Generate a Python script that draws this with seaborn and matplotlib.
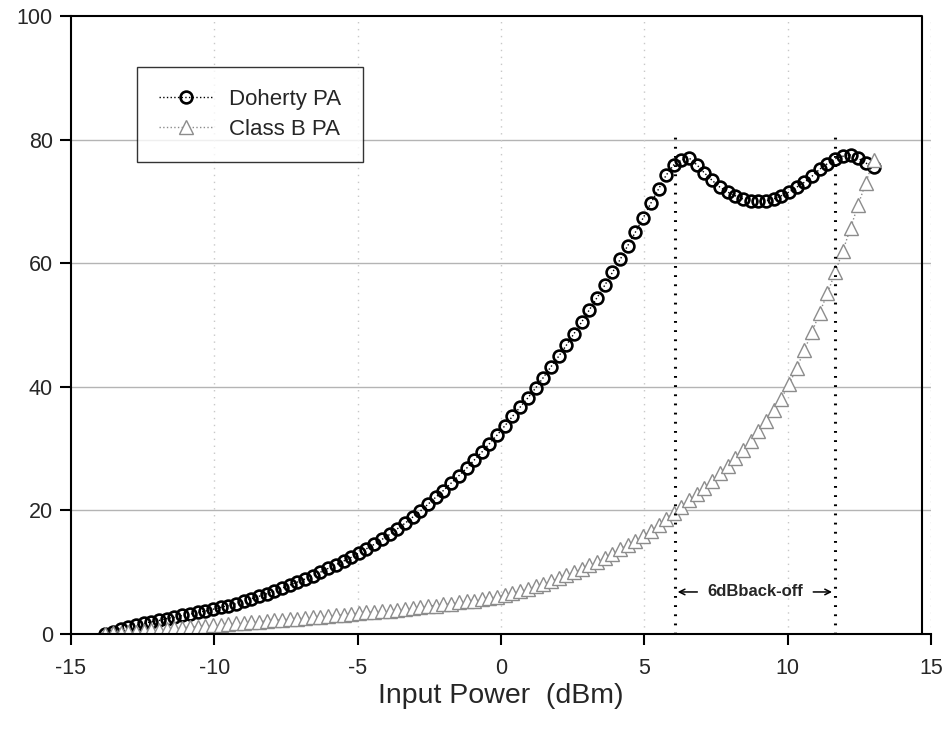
import numpy as np
import pandas as pd
import matplotlib
matplotlib.use("Agg")
import matplotlib.pyplot as plt
import seaborn as sns

# input power sweep (dBm)
input_power = [
    -13.80, -13.53, -13.26, -13.00, -12.73, -12.46, -12.19, -11.92, -11.66, -11.39,
    -11.12, -10.85, -10.58, -10.32, -10.05, -9.78, -9.51, -9.24, -8.98, -8.71,
    -8.44, -8.17, -7.90, -7.64, -7.37, -7.10, -6.83, -6.56, -6.30, -6.03,
    -5.76, -5.49, -5.22, -4.96, -4.69, -4.42, -4.15, -3.88, -3.62, -3.35,
    -3.08, -2.81, -2.54, -2.28, -2.01, -1.74, -1.47, -1.20, -0.94, -0.67,
    -0.40, -0.13, 0.14, 0.40, 0.67, 0.94, 1.21, 1.48, 1.74, 2.01,
    2.28, 2.55, 2.82, 3.08, 3.35, 3.62, 3.89, 4.16, 4.42, 4.69,
    4.96, 5.23, 5.50, 5.76, 6.03, 6.30, 6.57, 6.84, 7.10, 7.37,
    7.64, 7.91, 8.18, 8.44, 8.71, 8.98, 9.25, 9.52, 9.78, 10.05,
    10.32, 10.59, 10.86, 11.12, 11.39, 11.66, 11.93, 12.20, 12.46, 12.73,
    13.00,
]

# drain efficiency (%)
doherty_eff = [
    0.0, 0.4, 0.8, 1.1, 1.4, 1.7, 2.0, 2.2, 2.5, 2.7,
    3.0, 3.2, 3.5, 3.7, 4.0, 4.3, 4.6, 4.9, 5.3, 5.7,
    6.1, 6.5, 6.9, 7.4, 7.9, 8.4, 8.9, 9.4, 10.0, 10.6,
    11.2, 11.8, 12.4, 13.1, 13.8, 14.5, 15.3, 16.1, 17.0, 17.9,
    18.9, 19.9, 21.0, 22.1, 23.2, 24.4, 25.6, 26.8, 28.1, 29.4,
    30.8, 32.2, 33.7, 35.2, 36.7, 38.2, 39.8, 41.5, 43.2, 44.9,
    46.7, 48.6, 50.5, 52.4, 54.4, 56.4, 58.5, 60.6, 62.8, 65.0,
    67.3, 69.7, 72.0, 74.2, 75.9, 76.7, 77.0, 75.9, 74.6, 73.4,
    72.3, 71.5, 70.9, 70.4, 70.1, 70.0, 70.1, 70.4, 70.9, 71.5,
    72.3, 73.1, 74.1, 75.2, 76.1, 76.9, 77.3, 77.5, 77.0, 76.2,
    75.6,
]

classb_eff = [
    0.0, 0.1, 0.2, 0.3, 0.4, 0.5, 0.6, 0.7, 0.8, 0.9,
    1.0, 1.1, 1.2, 1.3, 1.4, 1.5, 1.6, 1.7, 1.8, 1.9,
    2.0, 2.1, 2.2, 2.3, 2.4, 2.5, 2.6, 2.7, 2.8, 2.9,
    3.0, 3.1, 3.2, 3.4, 3.5, 3.6, 3.7, 3.8, 3.9, 4.0,
    4.2, 4.3, 4.5, 4.6, 4.8, 4.9, 5.1, 5.3, 5.4, 5.6,
    5.8, 6.0, 6.3, 6.6, 6.9, 7.3, 7.7, 8.1, 8.5, 9.0,
    9.5, 10.0, 10.5, 11.1, 11.7, 12.3, 13.0, 13.7, 14.4, 15.1,
    15.9, 16.7, 17.6, 18.6, 19.6, 20.6, 21.6, 22.6, 23.7, 24.8,
    26.0, 27.2, 28.5, 29.8, 31.2, 32.8, 34.4, 36.2, 38.1, 40.4,
    43.0, 46.0, 48.9, 52.0, 55.1, 58.5, 62.0, 65.7, 69.4, 73.0,
    76.7,
]

# back-off markers
backoff_lo = 6.07
backoff_hi = 11.65
backoff_label = "6dBback-off"

df = pd.DataFrame({"pin": input_power, "doherty": doherty_eff, "classb": classb_eff})

sns.set_style("white")
plt.rcParams["font.family"] = ["Liberation Sans", "DejaVu Sans"]
plt.rcParams["axes.unicode_minus"] = False

fig = plt.figure(figsize=(9.46, 7.36), dpi=100)
ax = fig.add_axes([0.075, 0.1386, 0.909, 0.8397])

sns.lineplot(data=df, x="pin", y="doherty", ax=ax, color="black", linestyle=":",
             linewidth=1.0, marker="o", markersize=8.5, markerfacecolor="none",
             markeredgecolor="black", markeredgewidth=1.9, label="Doherty PA")
sns.lineplot(data=df, x="pin", y="classb", ax=ax, color="#8c8c8c", linestyle=":",
             linewidth=1.0, marker="^", markersize=10, markerfacecolor="white",
             markeredgecolor="#8c8c8c", markeredgewidth=1.0, label="Class B PA")

ax.set_xlim(-15, 15)
ax.set_ylim(0, 100)
ax.set_xticks(np.arange(-15, 16, 5))
ax.set_yticks(np.arange(0, 101, 20))
ax.set_xlabel("Input Power  (dBm)", fontsize=20.5, labelpad=3)
ax.set_ylabel("")

# grid: solid horizontal, dotted vertical
for yv in [20, 40, 60, 80]:
    ax.axhline(yv, color="#b4b4b4", linewidth=1.0, zorder=0)
for xv in [-10, -5, 0, 5, 10, 15]:
    ax.axvline(xv, color="#c8c8c8", linewidth=1.0, linestyle=(0, (1, 4)), zorder=0)

# frame
for side in ["right", "top"]:
    ax.spines[side].set_visible(False)
for side in ["left", "bottom"]:
    ax.spines[side].set_color("black")
    ax.spines[side].set_linewidth(1.5)
ax.axhline(100, xmin=0, xmax=(14.7 + 15) / 30, color="black", linewidth=1.5, clip_on=False)
ax.axvline(14.7, color="black", linewidth=1.5)

ax.tick_params(axis="both", direction="out", length=8, width=1.5, color="black",
               labelsize=15.5, bottom=True, left=True)
ax.tick_params(axis="x", pad=9)
ax.tick_params(axis="y", pad=5)

# back-off dotted lines
ax.vlines([backoff_lo, backoff_hi], 0, 81.5, colors="black", linewidth=2.2,
          linestyles=(0, (0.6, 2.4)))
ax.text((backoff_lo + backoff_hi) / 2, 6.8, backoff_label, ha="center", va="center",
        fontsize=12, fontweight="bold")
ax.annotate("", xy=(backoff_lo, 6.8), xytext=(6.95, 6.8),
            arrowprops=dict(arrowstyle="->", color="black", lw=1.1))
ax.annotate("", xy=(backoff_hi, 6.8), xytext=(10.8, 6.8),
            arrowprops=dict(arrowstyle="->", color="black", lw=1.1))

leg = ax.legend(loc="upper left", bbox_to_anchor=(0.0767, 0.9175), fontsize=16,
                frameon=True, fancybox=False, borderpad=1.0, handlelength=2.4,
                handletextpad=0.75, labelspacing=0.4, borderaxespad=0)
leg.get_frame().set_edgecolor("black")
leg.get_frame().set_linewidth(1.0)

fig.savefig("out.png", dpi=100)
